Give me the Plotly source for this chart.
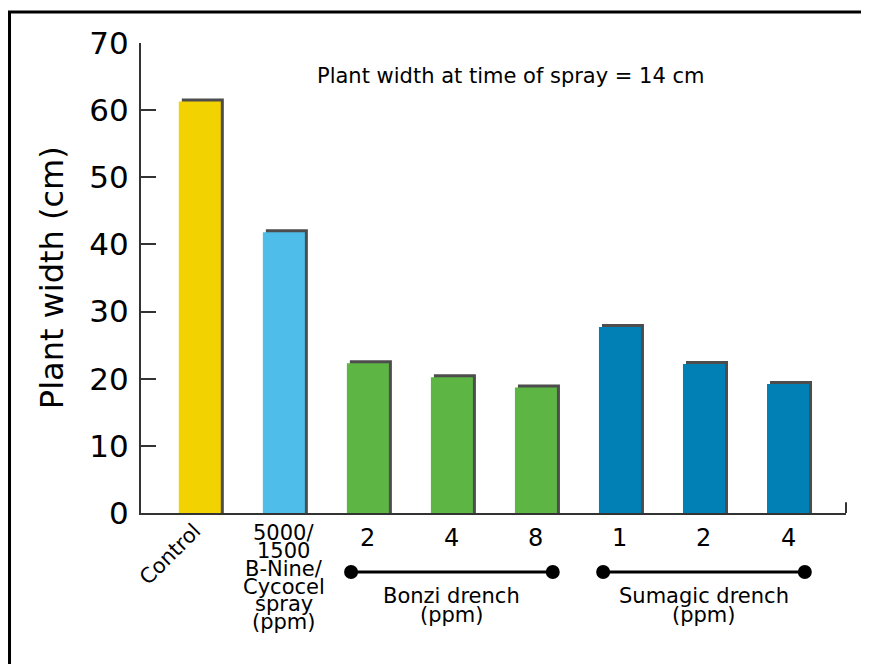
import plotly.graph_objects as go

# ---- data ----
categories = ["Control", "B-Nine/Cycocel", "Bonzi 2", "Bonzi 4", "Bonzi 8",
              "Sumagic 1", "Sumagic 2", "Sumagic 4"]
values = [61.3, 41.8, 22.3, 20.2, 18.7, 27.7, 22.2, 19.2]
bar_colors = ["#F2D200", "#4FBDE9", "#5DB543", "#5DB543", "#5DB543",
              "#0080B5", "#0080B5", "#0080B5"]
control_label = "Control"
spray_label_lines = ["5000/", "1500", "B-Nine/", "Cycocel", "spray", "(ppm)"]
rate_labels = ["", "", "2", "4", "8", "1", "2", "4"]
groups = [
    {"name": "Bonzi drench", "unit": "(ppm)", "first": 2, "last": 4},
    {"name": "Sumagic drench", "unit": "(ppm)", "first": 5, "last": 7},
]
note = "Plant width at time of spray = 14 cm"
y_title = "Plant width (cm)"
y_ticks = [0, 10, 20, 30, 40, 50, 60, 70]

FONT = "DejaVu Sans"
xs = list(range(len(categories)))
BW = 0.5
px_per_x = 84.0
px_per_y = 470 / 70.0
shift = 3.0

fig = go.Figure()
# shadow
fig.add_trace(go.Bar(
    x=xs, y=[v + shift / px_per_y for v in values], width=BW,
    offset=-BW / 2 + shift / px_per_x,
    marker=dict(color="#4d4d4d", line=dict(width=0)),
    hoverinfo="skip", showlegend=False))
# bars
fig.add_trace(go.Bar(
    x=xs, y=values, width=BW, offset=-BW / 2,
    marker=dict(color=bar_colors, line=dict(width=0)),
    showlegend=False))

ann = []
shapes = []

# note
ann.append(dict(text=note, x=3.7, y=0.93, xref="x", yref="paper",
                showarrow=False, font=dict(family=FONT, size=21, color="#000"),
                xanchor="center", yanchor="middle"))
# control label (rotated)
ann.append(dict(text=control_label, x=-0.35, y=-0.087, xref="x", yref="paper",
                showarrow=False, textangle=-45,
                font=dict(family=FONT, size=21, color="#000"),
                xanchor="center", yanchor="middle"))
# spray label
for i, line in enumerate(spray_label_lines):
    ann.append(dict(text=line, x=1, y=-0.043, yshift=-17.8 * i, xref="x",
                    yref="paper", showarrow=False,
                    font=dict(family=FONT, size=21, color="#000"),
                    xanchor="center", yanchor="middle"))
# rate labels
for i, t in enumerate(rate_labels):
    if t:
        ann.append(dict(text=t, x=i, y=-0.054, xref="x", yref="paper",
                        showarrow=False, font=dict(family=FONT, size=24, color="#000"),
                        xanchor="center", yanchor="middle"))
# group brackets
line_y = -0.1255
for g in groups:
    x0 = g["first"] - 0.2
    x1 = g["last"] + 0.2
    shapes.append(dict(type="line", xref="x", yref="paper", x0=x0, x1=x1,
                       y0=line_y, y1=line_y, line=dict(color="#000", width=3)))
    for xx in (x0, x1):
        shapes.append(dict(type="circle", xref="x", yref="paper",
                           xsizemode="pixel", ysizemode="pixel",
                           xanchor=xx, yanchor=line_y,
                           x0=-7, x1=7, y0=-7, y1=7,
                           fillcolor="#000", line=dict(color="#000", width=0)))
    cx = (g["first"] + g["last"]) / 2
    ann.append(dict(text=g["name"], x=cx, y=-0.177, xref="x", yref="paper",
                    showarrow=False, font=dict(family=FONT, size=21, color="#000"),
                    xanchor="center", yanchor="middle"))
    ann.append(dict(text=g["unit"], x=cx, y=-0.177, yshift=-19, xref="x",
                    yref="paper", showarrow=False,
                    font=dict(family=FONT, size=21, color="#000"),
                    xanchor="center", yanchor="middle"))

# y axis title
ann.append(dict(text=y_title, x=-0.126, y=0.5, xref="paper", yref="paper",
                showarrow=False, textangle=-90,
                font=dict(family=FONT, size=32, color="#000"),
                xanchor="center", yanchor="middle"))

# right end tick of x axis
shapes.append(dict(type="line", xref="x domain", yref="paper", x0=1, x1=1,
                   y0=0, y1=0.023, line=dict(color="#333", width=2)))
# frame border
shapes.append(dict(type="rect", xref="paper", yref="paper",
                   x0=-0.1865, x1=1.2, y0=-0.5, y1=1.066,
                   line=dict(color="#000", width=3), fillcolor="rgba(0,0,0,0)"))

fig.update_layout(
    width=861, height=656,
    margin=dict(l=133, r=23, t=35, b=151, autoexpand=False),
    paper_bgcolor="white", plot_bgcolor="white",
    barmode="overlay",
    annotations=ann, shapes=shapes,
    font=dict(family=FONT, color="#000"),
    xaxis=dict(range=[-0.70, 7.69], showline=True, linecolor="#333", linewidth=2,
               showticklabels=False, ticks="", showgrid=False, zeroline=False,
               fixedrange=True),
    yaxis=dict(range=[0, 70], tickvals=y_ticks, showline=True, linecolor="#333",
               linewidth=2, ticks="inside", ticklen=15, tickwidth=2,
               tickcolor="#333", showgrid=False, zeroline=False,
               tickfont=dict(family=FONT, size=31, color="#000"),
               ticklabelstandoff=4, fixedrange=True),
)

fig.write_html("out.html")
